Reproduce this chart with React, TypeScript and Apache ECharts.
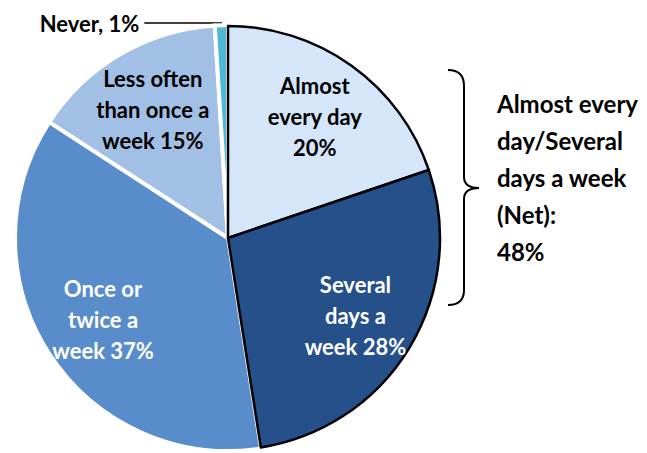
import React, { useEffect, useRef } from "react";
import * as echarts from "echarts";

const categories = [
  "Almost every day",
  "Several days a week",
  "Once or twice a week",
  "Less often than once a week",
  "Never",
];
const values = [20, 28, 37, 15, 1];
const sliceLabels = [
  "Almost\nevery day\n20%",
  "Several\ndays a\nweek 28%",
  "Once or\ntwice a\nweek 37%",
  "Less often\nthan once a\nweek 15%",
  "Never, 1%",
];
const netLabel = "Almost every\nday/Several\ndays a week\n(Net):\n48%";

const colors = ["#d5e5fa", "#26508a", "#588cca", "#a2c0e5", "#4bb8d6"];
const labelColors = ["#000000", "#ffffff", "#ffffff", "#000000", "#000000"];
const blackEdged = [true, true, false, false, false];

const FONT = "Lato, 'Open Sans', sans-serif";

export default function App() {
  const ref = useRef<HTMLDivElement>(null);
  useEffect(() => {
    document.body.style.margin = "0";
    const braceD =
      "M448,70 Q464,70 464,86 L464,177 Q464,188 479,188 Q464,188 464,199 L464,290 Q464,305 448,305";
    echarts.graphic.registerShape("brace", echarts.graphic.extendPath(braceD, {}));

    const chart = echarts.init(ref.current!, null, { renderer: "svg" });
    const center = [228, 238];
    const R = 213;

    const mainData = categories.map((name, i) => ({
      name,
      value: values[i],
      itemStyle: { color: colors[i], borderColor: "#ffffff", borderWidth: 4 },
      label:
        i === 4
          ? {
              show: true,
              position: "outside",
              formatter: sliceLabels[i],
              color: "#000",
              fontFamily: FONT,
              fontWeight: "bold",
              fontSize: 22,
              padding: [0, 0, 14, 0],
              distanceToLabelLine: 5,
            }
          : { show: false },
      labelLine:
        i === 4
          ? { show: true, length: 2, length2: 77, smooth: false, lineStyle: { color: "#000", width: 1.5 } }
          : { show: false },
    }));

    const overlayData = categories.map((name, i) => ({
      name,
      value: values[i],
      itemStyle: blackEdged[i]
        ? { color: colors[i], borderColor: "#000000", borderWidth: 2.5 }
        : { color: "rgba(0,0,0,0)", borderWidth: 0 },
    }));

    const labelData = categories.map((name, i) => ({
      name,
      value: values[i],
      itemStyle: { color: "rgba(0,0,0,0)", borderWidth: 0 },
      label:
        i === 4
          ? { show: false }
          : {
              show: true,
              position: "inside",
              formatter: sliceLabels[i],
              color: labelColors[i],
              fontFamily: FONT,
              fontWeight: "bold",
              fontSize: 22,
              lineHeight: 31,
              align: "center",
            },
    }));

    chart.setOption({
      animation: false,
      series: [
        {
          type: "pie",
          center,
          radius: [0, R],
          startAngle: 90,
          clockwise: true,
          silent: true,
          avoidLabelOverlap: false,
          data: mainData,
        },
        {
          type: "pie",
          center,
          radius: [0, R - 1],
          startAngle: 90,
          clockwise: true,
          silent: true,
          label: { show: false },
          labelLine: { show: false },
          data: overlayData,
        },
        {
          type: "pie",
          center,
          radius: [100, 192],
          startAngle: 90,
          clockwise: true,
          silent: true,
          avoidLabelOverlap: false,
          labelLine: { show: false },
          data: labelData,
        },
      ],
      graphic: [
        {
          type: "brace",
          x: 0,
          y: 0,
          silent: true,
          style: { fill: "none", stroke: "#000", lineWidth: 2 },
        },
        {
          type: "text",
          left: 497,
          top: 85,
          silent: true,
          style: {
            text: netLabel,
            fill: "#000",
            font: `bold 24px ${FONT}`,
            lineHeight: 37,
          },
        },
      ],
    });
    return () => chart.dispose();
  }, []);
  return <div ref={ref} style={{ width: 647, height: 453 }} />;
}
